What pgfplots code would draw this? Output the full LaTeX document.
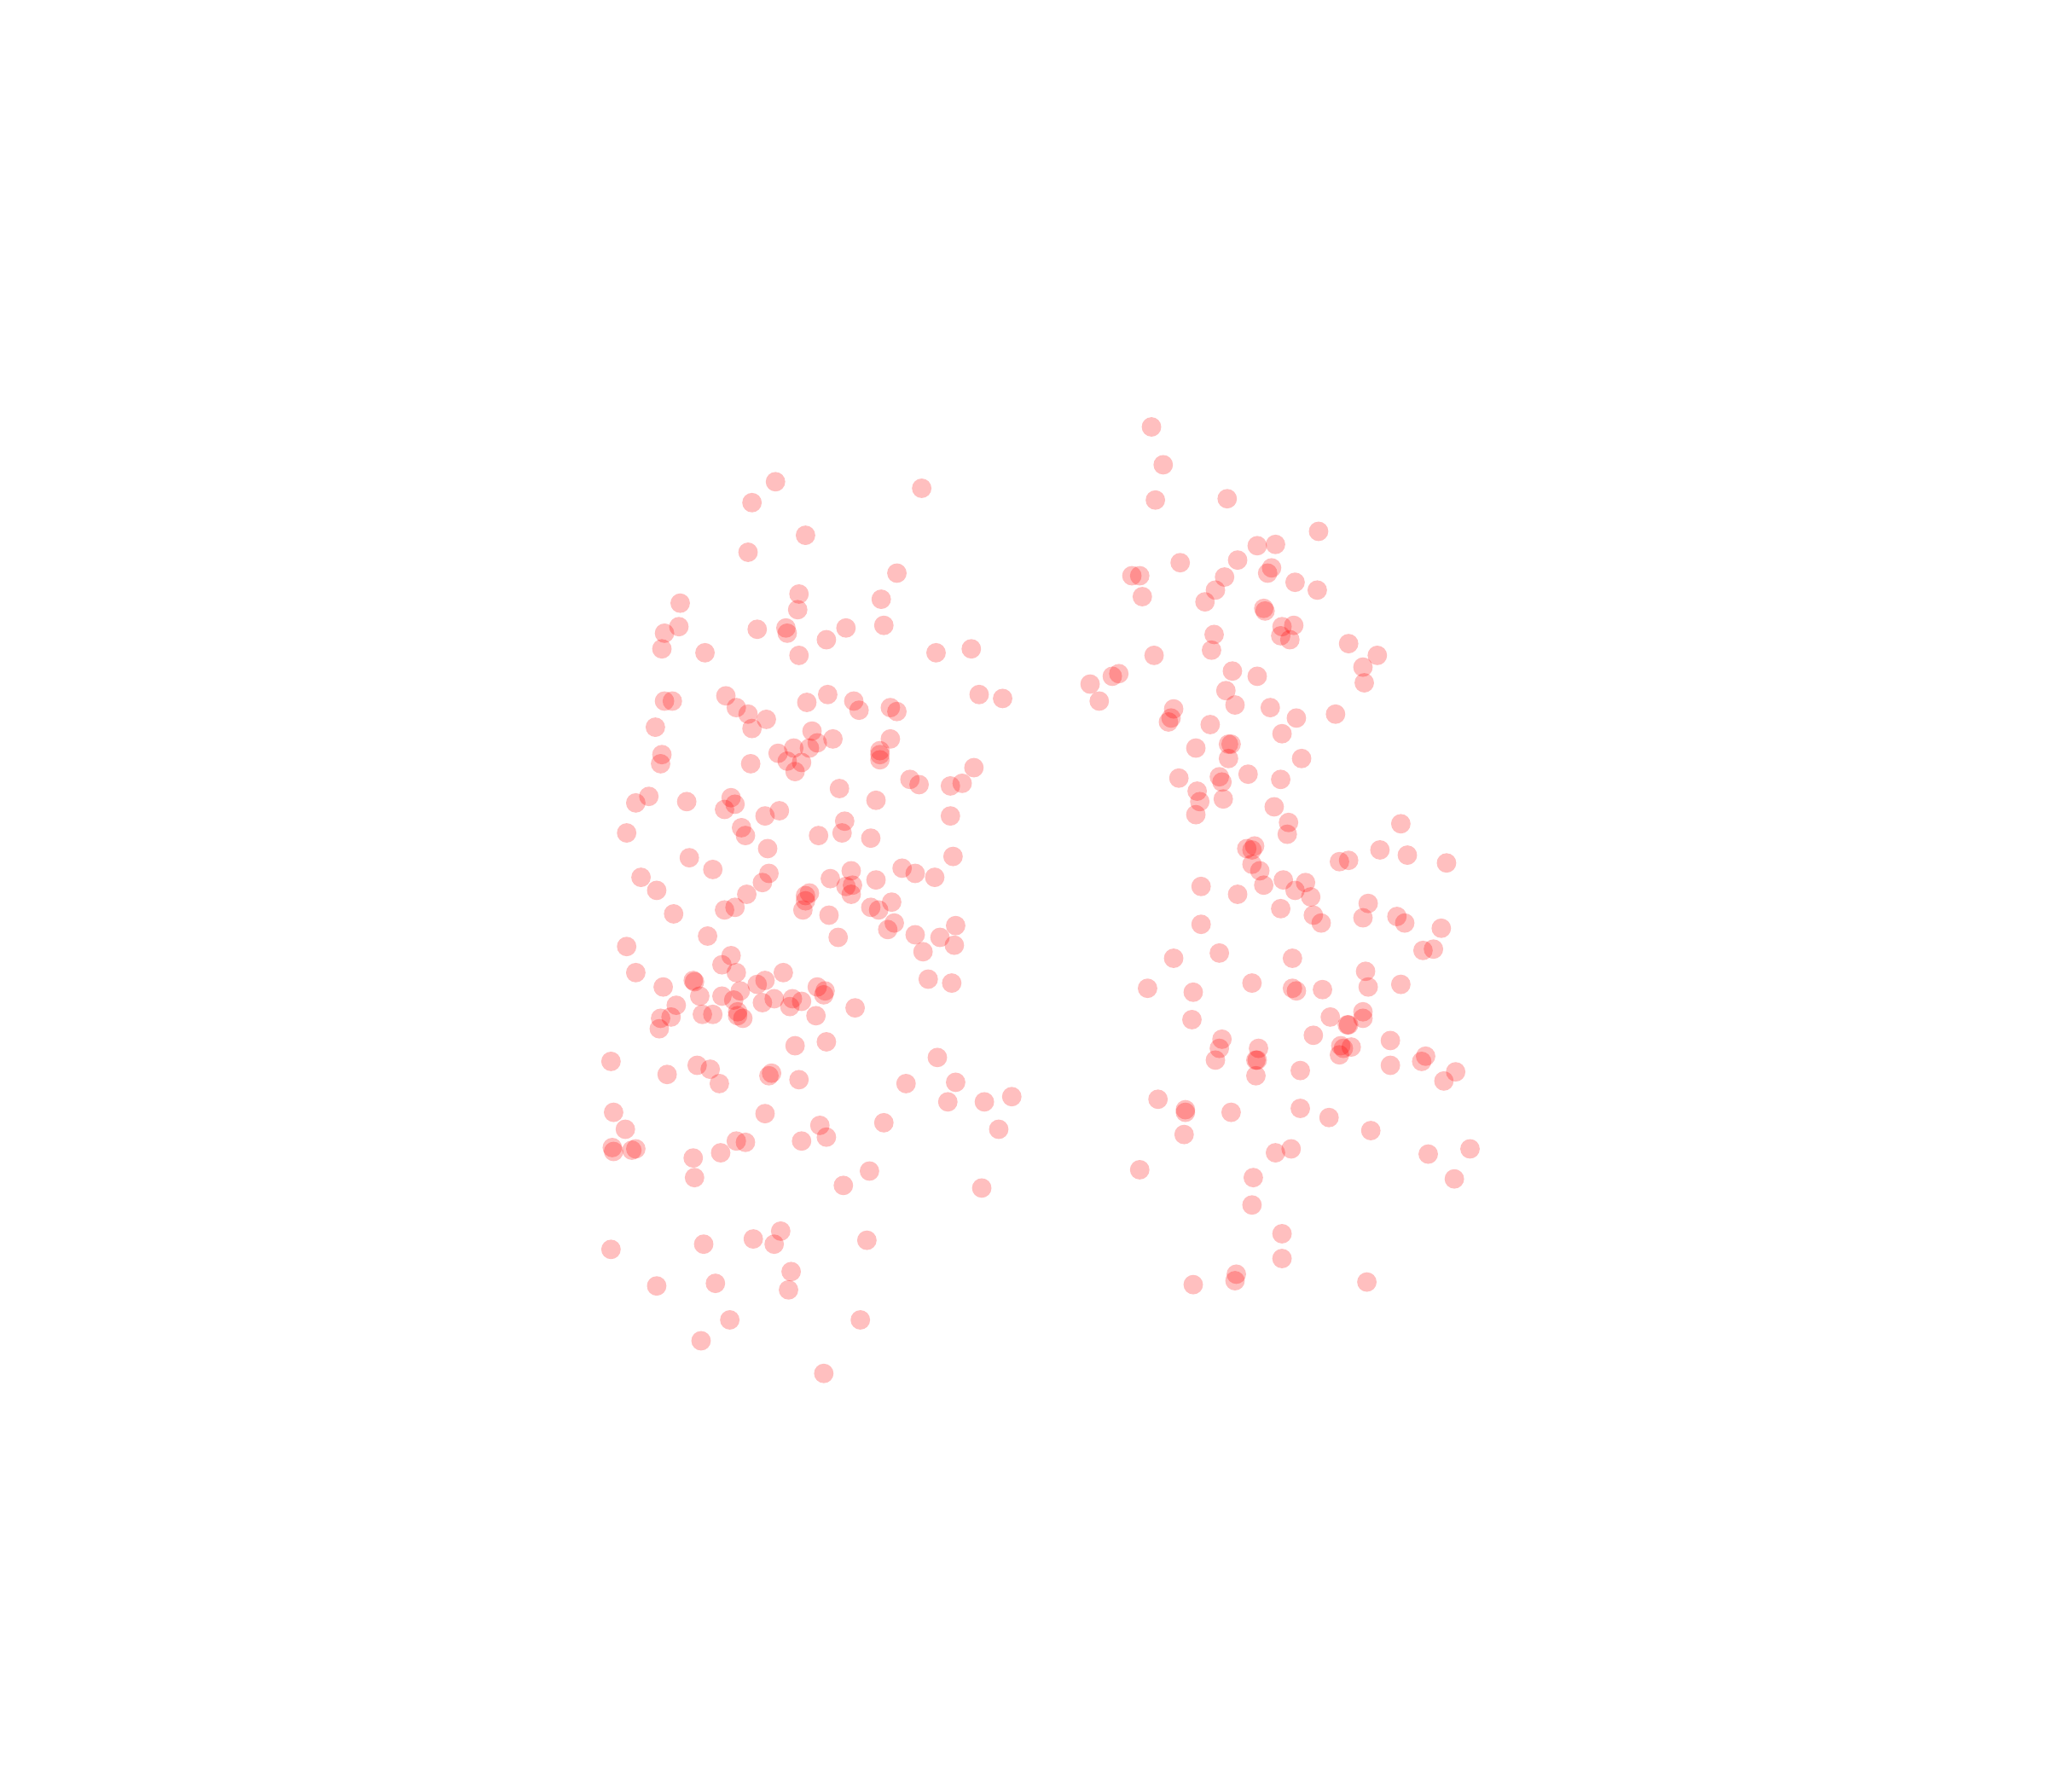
\documentclass[border=0pt]{standalone}
\usepackage{pgfplots}
\pgfplotsset{compat=1.18}
\pgfplotstableread{
x y
594 369
706 374
576 385
617 410
573 423
687 439
612 455
675 459
611 467
521 462
520 480
509 485
507 497
540 500
580 482
602 481
603 485
633 490
648 481
677 479
612 502
717 500
744 497
509 537
515 537
556 533
564 542
573 547
587 551
576 558
502 557
618 538
634 532
654 537
658 544
682 542
687 545
750 532
768 535
622 560
638 566
682 566
626 569
620 573
608 573
596 577
603 583
614 584
609 591
575 585
507 578
506 585
674 575
674 578
674 582
746 588
737 600
728 602
704 601
697 597
671 613
643 604
497 610
487 615
526 614
560 611
563 616
555 620
586 625
597 621
728 625
480 638
568 634
571 640
627 640
647 629
645 638
667 642
588 650
528 657
546 666
491 672
503 682
589 669
584 676
572 685
652 667
671 674
636 673
648 679
653 678
652 685
691 665
701 669
716 672
730 656
617 686
620 684
617 690
615 697
563 695
555 697
516 700
635 701
667 695
673 697
683 691
685 707
680 712
642 718
701 716
720 718
732 709
731 724
707 729
542 717
480 725
560 732
553 739
564 745
487 745
600 745
586 751
580 754
531 751
532 752
508 756
536 763
553 763
567 759
562 766
518 770
584 768
593 765
607 765
614 767
605 771
626 756
632 759
631 762
655 772
711 750
729 753
506 780
514 779
505 788
538 777
546 777
565 775
565 778
569 780
625 778
609 801
633 798
468 813
534 816
544 819
551 830
511 823
589 824
591 822
612 827
694 830
718 810
732 829
726 844
754 844
775 840
470 852
479 865
469 879
470 882
484 881
487 880
586 853
628 862
677 860
765 865
531 887
532 902
552 883
564 874
571 875
614 874
633 871
666 897
646 908
752 910
468 957
539 953
577 949
593 953
598 943
664 950
606 974
503 985
548 983
604 988
559 1011
659 1011
537 1027
631 1052
882 327
891 356
885 383
940 382
1010 407
963 418
977 417
948 429
904 431
867 441
873 441
938 442
971 439
974 435
992 446
1009 452
931 452
875 457
923 461
968 466
969 468
982 480
991 479
981 487
988 490
930 486
928 498
884 502
1033 493
1055 502
1044 511
1045 523
944 514
963 518
857 516
852 518
835 524
842 537
939 529
946 540
899 543
897 550
895 553
927 555
973 542
993 550
1023 547
982 562
916 573
941 570
943 570
941 581
997 581
903 596
934 595
936 599
956 593
981 597
917 606
919 614
937 612
916 624
976 618
987 630
986 639
1073 631
955 650
961 648
959 651
959 662
965 667
1026 660
1033 659
1057 651
1078 655
1108 661
983 674
1000 676
968 678
992 682
1004 687
920 679
948 685
981 696
1048 692
1006 701
1012 707
920 708
1044 703
1070 702
1076 707
1104 711
1090 728
1098 727
934 730
899 734
990 734
1046 744
959 753
879 757
914 760
990 757
993 759
1013 758
1048 756
1073 754
913 781
1019 779
1044 775
1044 780
1032 785
1033 785
936 796
1006 793
934 803
964 803
931 812
962 812
963 812
962 824
1027 801
1029 803
1035 802
1026 808
1065 797
1065 816
1089 813
1092 809
1115 821
1106 828
996 820
887 842
908 850
908 852
943 852
996 849
1018 856
1050 866
907 869
977 883
989 880
1094 884
1126 880
873 896
960 902
1114 903
959 923
982 945
982 964
947 976
946 981
914 984
1047 982
}\pts
\begin{document}
\begin{tikzpicture}
\path[use as bounding box] (0,0) rectangle (24cm,21cm);
\begin{axis}[
  at={(0,0)}, anchor=south west,
  scale only axis, width=24cm, height=21cm,
  xmin=0, xmax=1568, ymin=0, ymax=1372, y dir=reverse,
  axis lines=none, clip=false,
]
\addplot[only marks, mark=*, mark size=3.25pt,
  mark options={draw=red, draw opacity=0, line width=0pt, fill=red, fill opacity=0.25}] table[x=x,y=y] {\pts};
\end{axis}
\end{tikzpicture}
\end{document}
